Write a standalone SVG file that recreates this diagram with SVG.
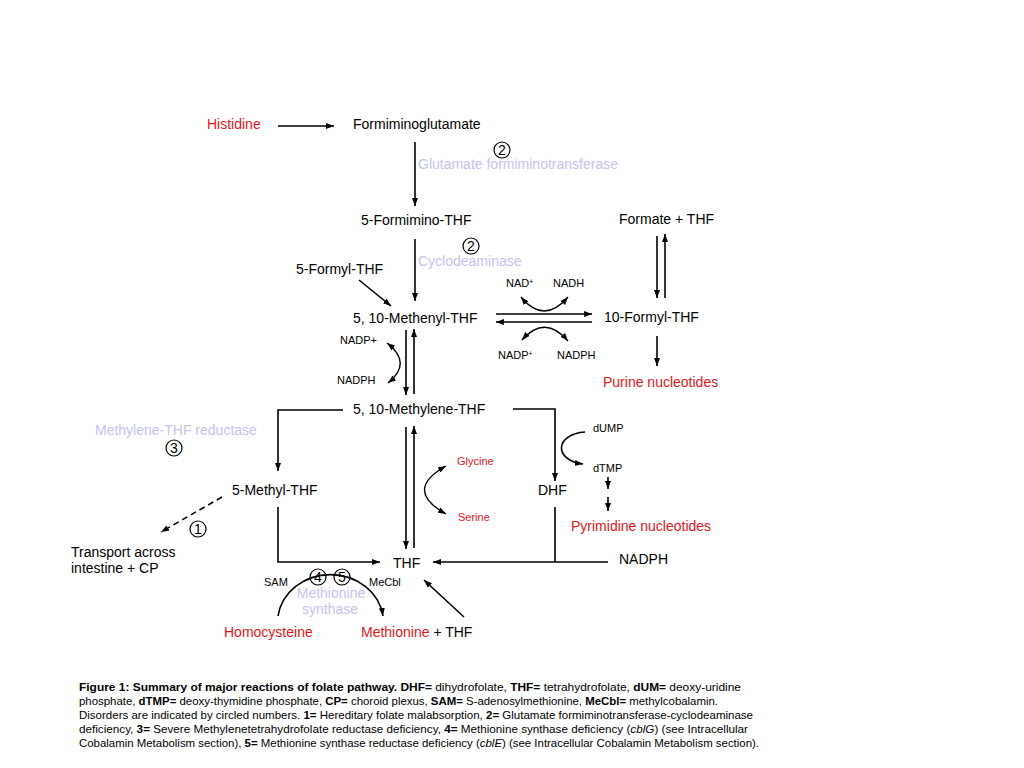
<svg xmlns="http://www.w3.org/2000/svg" width="1024" height="768" viewBox="0 0 1024 768">
<style>
text{font-family:"Liberation Sans",Arial,sans-serif;fill:#000}
.m{font-size:14px}
.s{font-size:11px}
.r{fill:#e3161b}
.e{fill:#c4c4ee;font-size:14px}
.cap{font-size:11px}
.b{font-weight:bold}
.ln{stroke:#000;stroke-width:1.6;fill:none}
.ar{stroke:#000;stroke-width:1.6;fill:none;marker-end:url(#ah)}
.arr{stroke:#000;stroke-width:1.4;fill:none;marker-end:url(#ah);marker-start:url(#ah)}
.c{fill:none;stroke:#000;stroke-width:1.2}
</style>
<defs>
<marker id="ah" viewBox="0 0 8 6" refX="8" refY="3" markerWidth="8" markerHeight="6" markerUnits="userSpaceOnUse" orient="auto-start-reverse"><path d="M0,0 L8,3 L0,6 z" fill="#000"/></marker>
</defs>
<rect width="1024" height="768" fill="#fff"/>

<g id="connectors">
<line class="ar" x1="278" y1="126" x2="334" y2="126"/>
<line class="ar" x1="415" y1="142" x2="415" y2="206"/>
<line class="ar" x1="415" y1="239" x2="415" y2="301"/>
<line class="ar" x1="359" y1="280" x2="391" y2="306"/>
<line class="ar" x1="657" y1="236" x2="657" y2="298"/>
<line class="ar" x1="665" y1="298" x2="665" y2="234"/>
<line class="ar" x1="657" y1="336" x2="657" y2="366"/>
<line class="ar" x1="496" y1="314" x2="592" y2="314"/>
<line class="ar" x1="592" y1="322" x2="496" y2="322"/>
<path class="arr" d="M521,297 Q544,325 568,297"/>
<path class="arr" d="M522,340 Q545,314 568,341"/>
<line class="ar" x1="406" y1="330" x2="406" y2="395"/>
<line class="ar" x1="414" y1="394" x2="414" y2="329"/>
<path class="arr" d="M387,343 Q413,363 388,383"/>
<polyline class="ar" points="343,410 278,410 278,471"/>
<polyline class="ar" points="513,409 555,409 555,481"/>
<line class="ar" x1="406" y1="427" x2="406" y2="549"/>
<line class="ar" x1="414" y1="548" x2="414" y2="426"/>
<path class="arr" d="M446,466 Q403,490 446,514"/>
<path class="ar" d="M585,432 C555,434 553,460 583,464"/>
<line class="ar" x1="608" y1="477" x2="608" y2="489"/>
<line class="ar" x1="608" y1="497" x2="608" y2="511"/>
<polyline class="ln" points="555,507 555,562"/>
<line class="ar" x1="608" y1="562" x2="433" y2="562"/>
<polyline class="ar" points="278,507 278,562 380,562"/>
<line class="ar" x1="222" y1="497" x2="161" y2="532" stroke-dasharray="6,4"/>
<path class="ar" d="M278,616 A53,48 0 0 1 383,616"/>
<line class="ar" x1="464" y1="617" x2="424" y2="580"/>
</g>

<g id="circles">
<circle class="c" cx="502" cy="150" r="8"/><text class="m" x="502" y="155" text-anchor="middle">2</text>
<circle class="c" cx="471" cy="246" r="8"/><text class="m" x="471" y="251" text-anchor="middle">2</text>
<circle class="c" cx="174" cy="448" r="8"/><text class="m" x="174" y="453" text-anchor="middle">3</text>
<circle class="c" cx="198" cy="529" r="8"/><text class="m" x="198" y="534" text-anchor="middle">1</text>
<circle class="c" cx="318" cy="577" r="8"/><text class="m" x="318" y="582" text-anchor="middle">4</text>
<circle class="c" cx="342" cy="577" r="8"/><text class="m" x="342" y="582" text-anchor="middle">5</text>
</g>

<g id="n-histidine"><text class="m r" x="207" y="129">Histidine</text></g>
<g id="n-formiminoglutamate"><text class="m" x="353" y="129">Formiminoglutamate</text></g>
<g id="e-gft"><text class="e" x="418" y="169">Glutamate formiminotransferase</text></g>
<g id="n-5formimino"><text class="m" x="361" y="225">5-Formimino-THF</text></g>
<g id="e-cyclo"><text class="e" x="418" y="266">Cyclodeaminase</text></g>
<g id="n-5formyl"><text class="m" x="296" y="274">5-Formyl-THF</text></g>
<g id="n-methenyl"><text class="m" x="353" y="323">5, 10-Methenyl-THF</text></g>
<g id="n-formate"><text class="m" x="619" y="224">Formate + THF</text></g>
<g id="n-10formyl"><text class="m" x="604" y="322">10-Formyl-THF</text></g>
<g id="n-purine"><text class="m r" x="603" y="387">Purine nucleotides</text></g>
<g id="c-nad"><text class="s" x="506" y="287">NAD<tspan font-size="7" dy="-3">+</tspan></text><text class="s" x="553" y="287">NADH</text></g>
<g id="c-nadp2"><text class="s" x="498" y="359">NADP<tspan font-size="7" dy="-3">+</tspan></text><text class="s" x="557" y="359">NADPH</text></g>
<g id="c-nadp1"><text class="s" x="340" y="344">NADP+</text><text class="s" x="337" y="384">NADPH</text></g>
<g id="n-methylene"><text class="m" x="353" y="414">5, 10-Methylene-THF</text></g>
<g id="e-mthfr"><text class="e" x="95" y="435">Methylene-THF reductase</text></g>
<g id="n-5methyl"><text class="m" x="232" y="495">5-Methyl-THF</text></g>
<g id="n-transport"><text class="m" x="71" y="557">Transport across</text><text class="m" x="71" y="573">intestine + CP</text></g>
<g id="c-glyser"><text class="s r" x="457" y="465">Glycine</text><text class="s r" x="458" y="521">Serine</text></g>
<g id="n-dhf"><text class="m" x="538" y="495">DHF</text></g>
<g id="c-dump"><text class="s" x="593" y="432">dUMP</text><text class="s" x="593" y="472">dTMP</text></g>
<g id="n-pyrimidine"><text class="m r" x="571" y="531">Pyrimidine nucleotides</text></g>
<g id="n-nadph"><text class="m" x="619" y="564">NADPH</text></g>
<g id="n-thf"><text class="m" x="393" y="568">THF</text></g>
<g id="c-ms"><text class="s" x="264" y="586">SAM</text><text class="s" x="369" y="586">MeCbl</text></g>
<g id="e-ms"><text class="e" x="331" y="598" text-anchor="middle">Methionine</text><text class="e" x="330" y="614" text-anchor="middle">synthase</text></g>
<g id="n-homocysteine"><text class="m r" x="224" y="637">Homocysteine</text></g>
<g id="n-methionine"><text class="m" x="361" y="637"><tspan class="r">Methionine</tspan> + THF</text></g>

<g id="caption">
<text class="cap" x="79" y="691" textLength="662" lengthAdjust="spacingAndGlyphs"><tspan class="b">Figure 1: Summary of major reactions of folate pathway. DHF=</tspan> dihydrofolate, <tspan class="b">THF=</tspan> tetrahydrofolate, <tspan class="b">dUM=</tspan> deoxy-uridine</text>
<text class="cap" x="79" y="705" textLength="639" lengthAdjust="spacingAndGlyphs">phosphate, <tspan class="b">dTMP=</tspan> deoxy-thymidine phosphate, <tspan class="b">CP=</tspan> choroid plexus, <tspan class="b">SAM=</tspan> S-adenosylmethionine, <tspan class="b">MeCbl=</tspan> methylcobalamin.</text>
<text class="cap" x="79" y="719" textLength="674" lengthAdjust="spacingAndGlyphs">Disorders are indicated by circled numbers.  <tspan class="b">1=</tspan> Hereditary folate malabsorption, <tspan class="b">2=</tspan> Glutamate formiminotransferase-cyclodeaminase</text>
<text class="cap" x="79" y="733" textLength="669" lengthAdjust="spacingAndGlyphs">deficiency, <tspan class="b">3=</tspan> Severe Methylenetetrahydrofolate reductase deficiency, <tspan class="b">4=</tspan> Methionine synthase deficiency (<tspan font-style="italic">cblG</tspan>) (see Intracellular</text>
<text class="cap" x="79" y="747" textLength="680" lengthAdjust="spacingAndGlyphs">Cobalamin Metabolism section), <tspan class="b">5=</tspan> Methionine synthase reductase deficiency (<tspan font-style="italic">cblE</tspan>) (see Intracellular Cobalamin Metabolism section).</text>
</g>
</svg>
